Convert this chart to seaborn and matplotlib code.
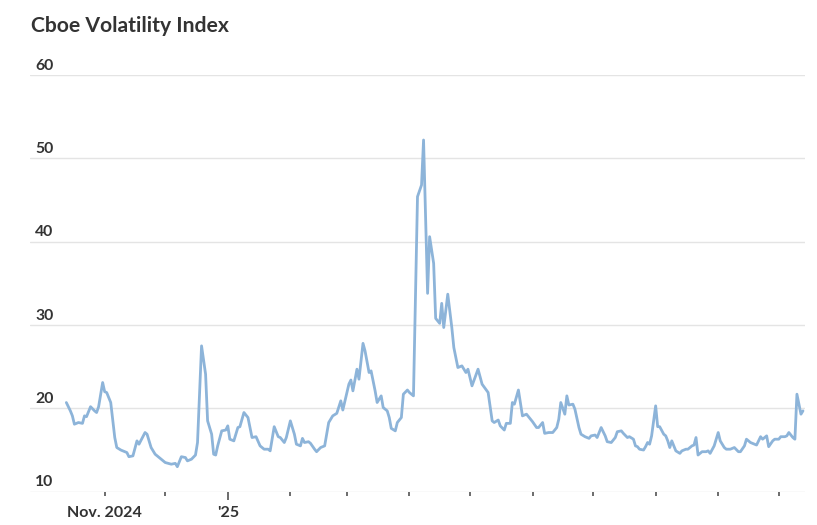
import matplotlib
matplotlib.use("Agg")
import matplotlib.pyplot as plt
import pandas as pd
import seaborn as sns

sns.set_theme(style="white")
plt.rcParams["font.family"] = ["Lato", "DejaVu Sans"]

# values (Cboe VIX, Oct 2024 - Oct 2025)
dates = [
    "2024-10-13", "2024-10-15", "2024-10-16", "2024-10-17", "2024-10-19", "2024-10-21",
    "2024-10-22", "2024-10-23", "2024-10-25", "2024-10-27", "2024-10-28", "2024-10-29",
    "2024-10-31", "2024-11-01", "2024-11-02", "2024-11-04", "2024-11-06", "2024-11-07",
    "2024-11-09", "2024-11-12", "2024-11-13", "2024-11-15", "2024-11-17", "2024-11-18",
    "2024-11-21", "2024-11-22", "2024-11-24", "2024-11-26", "2024-11-28", "2024-11-29",
    "2024-12-01", "2024-12-04", "2024-12-06", "2024-12-07", "2024-12-09", "2024-12-11",
    "2024-12-12", "2024-12-14", "2024-12-16", "2024-12-17", "2024-12-19", "2024-12-21",
    "2024-12-22", "2024-12-24", "2024-12-25", "2024-12-26", "2024-12-27", "2024-12-29",
    "2024-12-31", "2025-01-01", "2025-01-02", "2025-01-04", "2025-01-06", "2025-01-07",
    "2025-01-09", "2025-01-11", "2025-01-13", "2025-01-15", "2025-01-17", "2025-01-19",
    "2025-01-21", "2025-01-22", "2025-01-24", "2025-01-26", "2025-01-27", "2025-01-29",
    "2025-01-30", "2025-02-01", "2025-02-03", "2025-02-04", "2025-02-06", "2025-02-07",
    "2025-02-08", "2025-02-10", "2025-02-11", "2025-02-13", "2025-02-14", "2025-02-16",
    "2025-02-18", "2025-02-20", "2025-02-22", "2025-02-24", "2025-02-26", "2025-02-27",
    "2025-03-02", "2025-03-03", "2025-03-04", "2025-03-06", "2025-03-07", "2025-03-09",
    "2025-03-10", "2025-03-12", "2025-03-13", "2025-03-15", "2025-03-16", "2025-03-18",
    "2025-03-19", "2025-03-21", "2025-03-22", "2025-03-23", "2025-03-25", "2025-03-26",
    "2025-03-28", "2025-03-29", "2025-03-31", "2025-04-01", "2025-04-03", "2025-04-05",
    "2025-04-07", "2025-04-08", "2025-04-10", "2025-04-11", "2025-04-13", "2025-04-14",
    "2025-04-16", "2025-04-17", "2025-04-18", "2025-04-20", "2025-04-22", "2025-04-23",
    "2025-04-25", "2025-04-27", "2025-04-29", "2025-04-30", "2025-05-02", "2025-05-05",
    "2025-05-07", "2025-05-10", "2025-05-12", "2025-05-13", "2025-05-15", "2025-05-16",
    "2025-05-18", "2025-05-19", "2025-05-21", "2025-05-22", "2025-05-23", "2025-05-25",
    "2025-05-27", "2025-05-29", "2025-05-31", "2025-06-01", "2025-06-03", "2025-06-04",
    "2025-06-06", "2025-06-07", "2025-06-09", "2025-06-11", "2025-06-13", "2025-06-14",
    "2025-06-15", "2025-06-17", "2025-06-18", "2025-06-19", "2025-06-21", "2025-06-22",
    "2025-06-24", "2025-06-25", "2025-06-27", "2025-06-29", "2025-06-30", "2025-07-02",
    "2025-07-03", "2025-07-05", "2025-07-07", "2025-07-08", "2025-07-10", "2025-07-12",
    "2025-07-13", "2025-07-15", "2025-07-16", "2025-07-18", "2025-07-19", "2025-07-21",
    "2025-07-22", "2025-07-23", "2025-07-24", "2025-07-26", "2025-07-27", "2025-07-28",
    "2025-07-29", "2025-07-30", "2025-08-01", "2025-08-02", "2025-08-03", "2025-08-05",
    "2025-08-06", "2025-08-07", "2025-08-08", "2025-08-09", "2025-08-11", "2025-08-13",
    "2025-08-14", "2025-08-16", "2025-08-17", "2025-08-19", "2025-08-20", "2025-08-21",
    "2025-08-22", "2025-08-24", "2025-08-26", "2025-08-27", "2025-08-28", "2025-08-30",
    "2025-09-01", "2025-09-02", "2025-09-04", "2025-09-05", "2025-09-07", "2025-09-09",
    "2025-09-11", "2025-09-12", "2025-09-14", "2025-09-15", "2025-09-17", "2025-09-18",
    "2025-09-20", "2025-09-21", "2025-09-22", "2025-09-23", "2025-09-25", "2025-09-26",
    "2025-09-28", "2025-09-29", "2025-10-01", "2025-10-02", "2025-10-04", "2025-10-05",
    "2025-10-06", "2025-10-08", "2025-10-09", "2025-10-10", "2025-10-12", "2025-10-13",
]
vix = [
    20.7, 19.7, 19.1, 18.1, 18.3, 18.2,
    19.1, 19.0, 20.2, 19.7, 19.5, 20.2,
    23.1, 22.0, 21.9, 20.7, 16.5, 15.3,
    15.0, 14.7, 14.2, 14.3, 16.1, 15.7,
    17.1, 16.9, 15.3, 14.5, 14.1, 13.9,
    13.5, 13.3, 13.4, 13.0, 14.2, 14.1,
    13.7, 13.9, 14.4, 15.9, 27.5, 24.1,
    18.5, 16.9, 14.5, 14.4, 15.5, 17.3,
    17.4, 17.9, 16.3, 16.1, 17.7, 17.8,
    19.5, 18.9, 16.5, 16.6, 15.5, 15.1,
    15.1, 14.9, 17.8, 16.6, 16.5, 15.9,
    16.5, 18.5, 16.9, 15.7, 15.5, 16.4,
    15.9, 16.0, 15.8, 15.1, 14.8, 15.3,
    15.5, 18.3, 19.1, 19.4, 20.9, 19.8,
    22.9, 23.4, 22.1, 24.7, 23.5, 27.8,
    26.9, 24.3, 24.5, 22.1, 20.7, 21.5,
    20.1, 19.7, 18.9, 17.6, 17.3, 18.3,
    18.9, 21.7, 22.2, 21.9, 21.5, 45.4,
    46.8, 52.2, 33.8, 40.6, 37.4, 30.8,
    30.2, 32.6, 29.7, 33.7, 29.7, 27.3,
    24.9, 25.1, 24.3, 24.7, 22.7, 24.7,
    22.9, 21.9, 18.5, 18.3, 18.6, 17.9,
    17.4, 18.2, 18.2, 20.7, 20.5, 22.2,
    19.1, 19.3, 18.7, 18.4, 17.7, 17.7,
    18.3, 17.0, 17.1, 17.1, 17.7, 18.7,
    20.7, 19.3, 21.5, 20.4, 20.5, 19.9,
    17.7, 16.9, 16.6, 16.4, 16.7, 16.8,
    16.5, 17.7, 16.7, 16.0, 15.9, 16.5,
    17.2, 17.3, 17.0, 16.5, 16.6, 16.3,
    15.5, 15.4, 15.1, 15.0, 15.4, 15.9,
    15.7, 16.7, 20.3, 17.8, 17.8, 16.9,
    16.7, 16.1, 15.3, 16.1, 14.9, 14.6,
    14.9, 15.1, 15.1, 15.5, 15.6, 16.5,
    14.4, 14.8, 14.8, 14.9, 14.6, 15.5,
    17.1, 16.1, 15.3, 15.1, 15.1, 15.3,
    14.8, 14.8, 15.5, 16.3, 15.9, 15.8,
    15.6, 16.1, 16.6, 16.3, 16.7, 15.4,
    16.1, 16.3, 16.3, 16.6, 16.6, 16.7,
    17.1, 16.5, 16.3, 21.7, 19.3, 19.7,
]
y_ticks = [10, 20, 30, 40, 50, 60]
month_ticks = pd.date_range("2024-11-01", "2025-10-01", freq="MS")
month_labels = {"2024-11": "Nov. 2024", "2025-01": "'25"}

df = pd.DataFrame({"date": pd.to_datetime(dates), "vix": vix})

text_color = "#333333"
fig = plt.figure(figsize=(8.17, 5.25), dpi=100)
ax = fig.add_axes([30 / 817, (525 - 491.7) / 525, 775 / 817, (491.7 - 75) / 525])

for v in y_ticks:
    ax.axhline(v, color="#e4e4e4", lw=1.0, zorder=0)
    ax.text(0.0065, v + 0.65, str(v), transform=ax.get_yaxis_transform(),
            ha="left", va="baseline", fontsize=11.3, fontweight="bold", color=text_color)

sns.lineplot(data=df, x="date", y="vix", ax=ax, color="#8db4d9", linewidth=2.0)

ax.set_xlim(pd.Timestamp("2024-09-25"), pd.Timestamp("2025-10-14"))
ax.set_ylim(10, 60)
ax.set_yticks([])
ax.set_xticks(month_ticks)
ax.set_xticklabels([month_labels.get(d.strftime("%Y-%m"), "") for d in month_ticks])
ax.tick_params(axis="x", bottom=True, length=3, width=1.1, color="#444444", pad=7.5,
               labelsize=11.5, labelcolor=text_color)
for lab in ax.get_xticklabels():
    lab.set_fontweight("bold")
for d, t in zip(month_ticks, ax.xaxis.get_major_ticks()):
    if d == pd.Timestamp("2025-01-01"):
        t.tick1line.set_markersize(5.5)
ax.set_xlabel("")
ax.set_ylabel("")
sns.despine(ax=ax, left=True, bottom=True, top=True, right=True)

fig.text(31 / 817, 1 - 32.3 / 525, "Cboe Volatility Index", ha="left", va="baseline",
         fontsize=15.2, fontweight="bold", color=text_color)

fig.savefig("out.png", dpi=100, facecolor="white")
